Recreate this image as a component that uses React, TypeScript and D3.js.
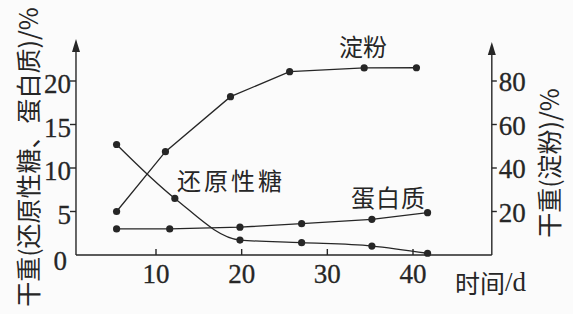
import React from "react";
import * as d3 from "d3";

const W = 573;
const H = 314;

// days (x) and values
const starchDays = [5.4, 11.1, 18.7, 25.6, 34.3, 40.4];
const starch = [20, 47.5, 72.8, 84.3, 86.0, 86.1]; // right axis, %
const sugarDays = [5.4, 12.2, 19.8, 27.0, 35.2, 41.7];
const sugar = [12.7, 6.5, 1.72, 1.42, 1.03, 0.2]; // left axis, %
const proteinDays = [5.4, 11.6, 19.8, 27.0, 35.2, 41.7];
const protein = [3.0, 3.0, 3.2, 3.6, 4.1, 4.86]; // left axis, %

const xTicks = [10, 20, 30, 40];
const leftTicks = [0, 5, 10, 15, 20];
const rightTicks = [20, 40, 60, 80];

const INK = "#262626";
const NUM_FONT = "'Liberation Serif', 'DejaVu Serif', serif";
const CJK_FONT = "'Noto Sans CJK SC', 'Noto Sans', sans-serif";

export default function App() {
  const x = d3.scaleLinear().domain([10, 40]).range([156, 413]);
  const yL = d3.scaleLinear().domain([0, 20]).range([255, 81]);
  const yR = d3.scaleLinear().domain([0, 80]).range([255, 81]);

  const axisLeftX = x(0.66);
  const axisRightX = x(49.2);
  const baseY = yL(0);
  const arrowTopL = 39;
  const arrowTopR = 42;

  const straight = d3
    .line<[number, number]>()
    .x((d) => d[0])
    .y((d) => d[1]);
  const smooth = d3
    .line<[number, number]>()
    .x((d) => d[0])
    .y((d) => d[1])
    .curve(d3.curveMonotoneX);

  const starchPts: [number, number][] = starchDays.map((d, i) => [x(d), yR(starch[i])]);
  const sugarPts: [number, number][] = sugarDays.map((d, i) => [x(d), yL(sugar[i])]);
  const proteinPts: [number, number][] = proteinDays.map((d, i) => [x(d), yL(protein[i])]);

  const arrow = (cx: number, tip: number) =>
    `M${cx},${tip} L${cx - 4},${tip + 13} L${cx + 4},${tip + 13} Z`;

  const numStyle = { fontFamily: NUM_FONT };
  const cjkStyle = { fontFamily: CJK_FONT };

  return (
    <svg
      width={W}
      height={H}
      style={{ position: "absolute", left: 0, top: 0, background: "#fbfbfb" }}
    >
      <rect x={0} y={0} width={W} height={H} fill="#fbfbfb" />
      {/* axes */}
      <g stroke={INK} strokeWidth={1.4} fill="none">
        <line x1={axisLeftX} y1={baseY} x2={axisLeftX} y2={arrowTopL + 8} />
        <line x1={axisRightX} y1={baseY} x2={axisRightX} y2={arrowTopR + 8} />
        <line x1={axisLeftX} y1={baseY} x2={axisRightX} y2={baseY} />
        {xTicks.map((t) => (
          <line key={"xt" + t} x1={x(t)} y1={baseY} x2={x(t)} y2={baseY - 6} />
        ))}
        {leftTicks
          .filter((t) => t > 0)
          .map((t) => (
            <line key={"lt" + t} x1={axisLeftX} y1={yL(t)} x2={axisLeftX - 6} y2={yL(t)} />
          ))}
        {rightTicks.map((t) => (
          <line key={"rt" + t} x1={axisRightX} y1={yR(t)} x2={axisRightX + 5} y2={yR(t)} />
        ))}
      </g>
      <path d={arrow(axisLeftX, arrowTopL)} fill={INK} />
      <path d={arrow(axisRightX, arrowTopR)} fill={INK} />

      {/* tick labels */}
      <g fill={INK} fontSize={27} stroke={INK} strokeWidth={0.3}>
        {xTicks.map((t) => (
          <text key={"xl" + t} x={x(t)} y={283} textAnchor="middle" style={numStyle}>
            {t}
          </text>
        ))}
        {leftTicks.map((t) => (
          <text
            key={"ll" + t}
            x={t === 0 ? axisLeftX - 9 : axisLeftX - 5}
            y={yL(t) + (t === 0 ? 6 : 3)}
            textAnchor="end"
            dominantBaseline="central"
            style={numStyle}
          >
            {t}
          </text>
        ))}
        {rightTicks.map((t) => (
          <text
            key={"rl" + t}
            x={axisRightX + 7}
            y={yR(t) + 1}
            textAnchor="start"
            dominantBaseline="central"
            style={numStyle}
          >
            {t}
          </text>
        ))}
      </g>

      {/* series */}
      <g fill="none" stroke={INK} strokeWidth={1.3}>
        <path d={straight(starchPts) || ""} />
        <path d={smooth(sugarPts) || ""} />
        <path d={straight(proteinPts) || ""} />
      </g>
      <g fill={INK}>
        {[...starchPts, ...sugarPts, ...proteinPts].map((p, i) => (
          <circle key={"m" + i} cx={p[0]} cy={p[1]} r={3.6} />
        ))}
      </g>

      {/* series labels */}
      <g fill={INK} style={cjkStyle} fontSize={24}>
        <text x={339} y={45} dominantBaseline="central">淀粉</text>
        <text x={177} y={179} dominantBaseline="central" letterSpacing={3}>
          还原性糖
        </text>
        <text x={351} y={196} dominantBaseline="central" letterSpacing={1}>
          蛋白质
        </text>
      </g>

      {/* axis titles */}
      <text x={455} y={282} fill={INK} fontSize={25} dominantBaseline="central">
        <tspan style={cjkStyle}>时间</tspan>
        <tspan style={numStyle} fontSize={27}>/d</tspan>
      </text>
      <text
        transform={`translate(27,157) rotate(-90)`}
        textAnchor="middle"
        dominantBaseline="central"
        fill={INK}
        fontSize={25}
        style={cjkStyle}
      >
        干重(还原性糖、蛋白质)/%
      </text>
      <text
        transform={`translate(548,163) rotate(-90)`}
        textAnchor="middle"
        dominantBaseline="central"
        fill={INK}
        fontSize={25}
        style={cjkStyle}
      >
        干重(淀粉)/%
      </text>
    </svg>
  );
}
